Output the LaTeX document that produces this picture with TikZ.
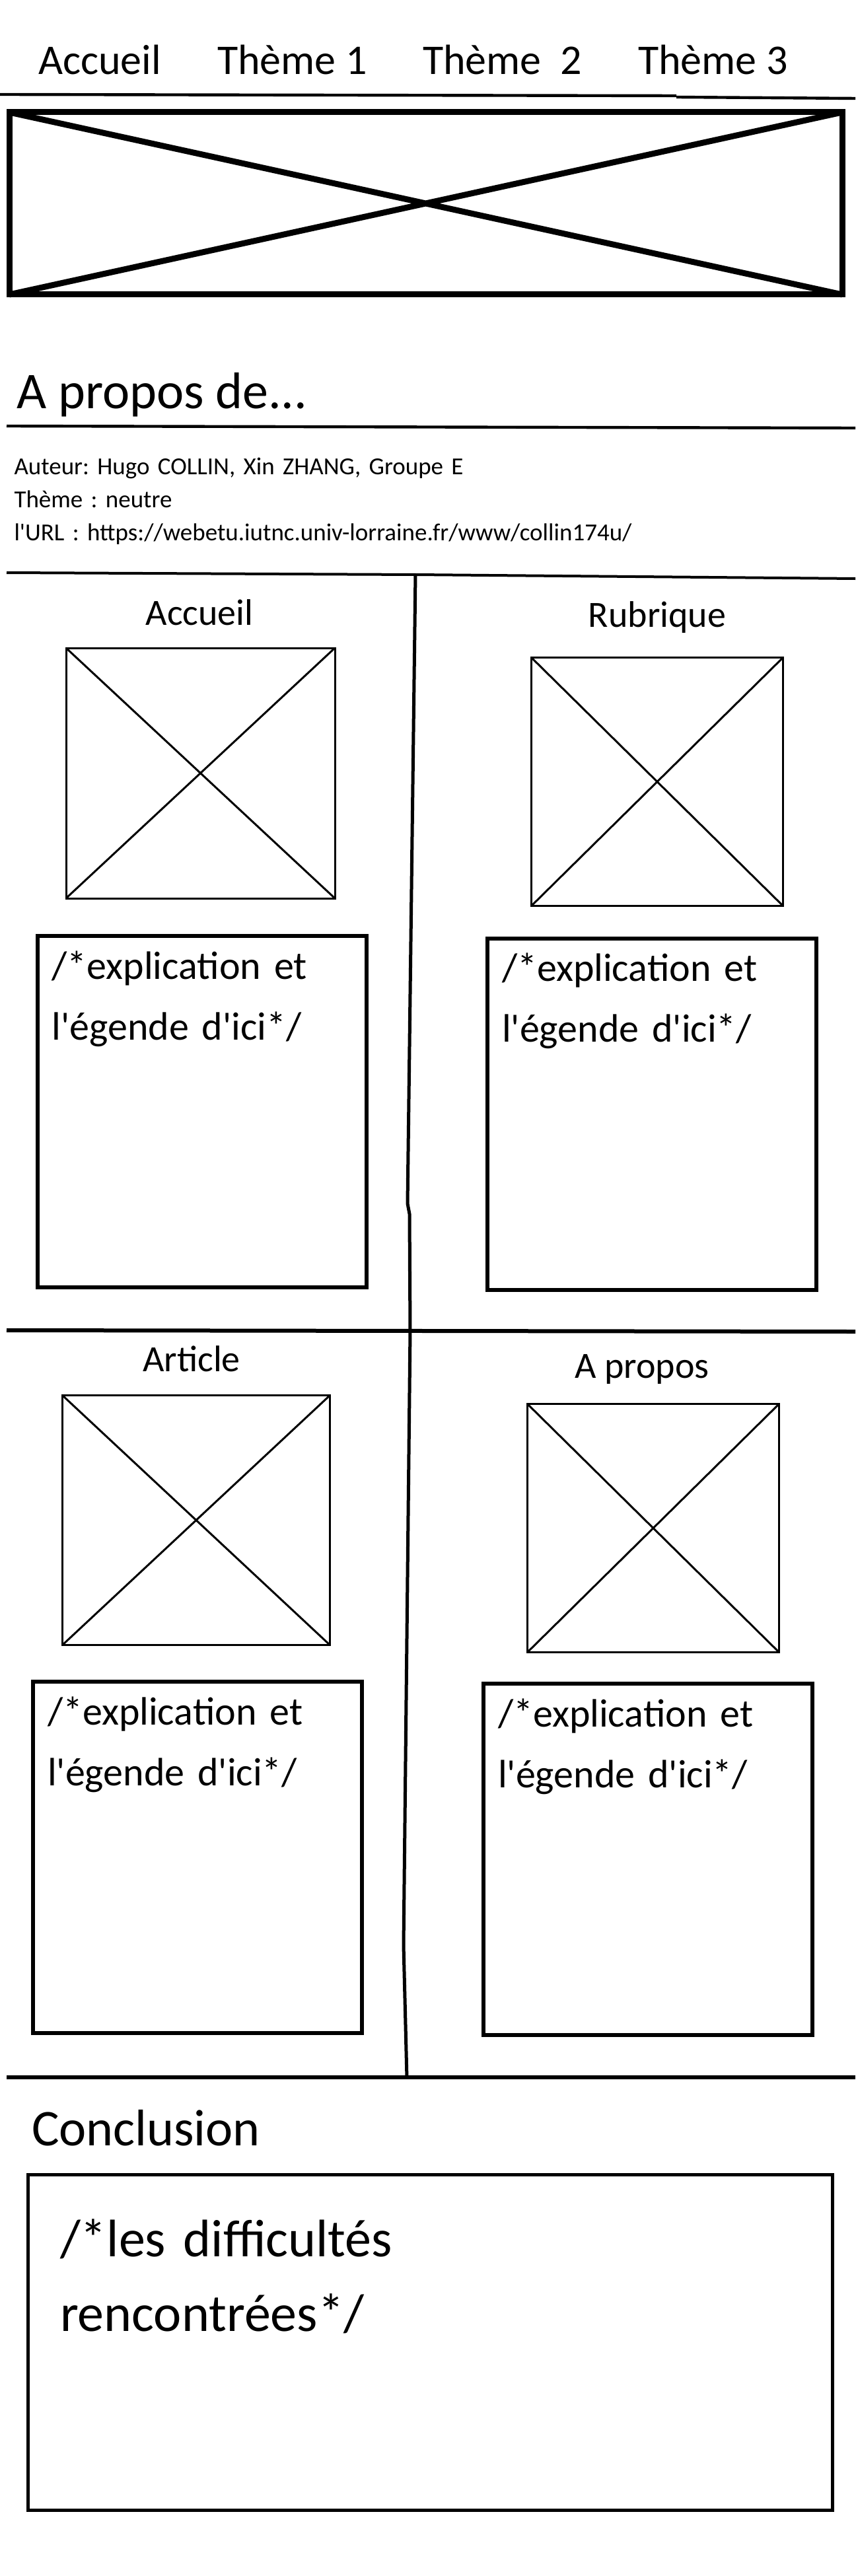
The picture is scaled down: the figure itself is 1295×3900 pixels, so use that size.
\documentclass[tikz,border=0pt]{standalone}
\usepackage{fontspec}
\setmainfont{Carlito}
\frenchspacing

\begin{document}
\begin{tikzpicture}[
        x=0.5pt, y=-0.5pt,
        every node/.style={inner sep=0pt, outer sep=0pt},
        menu/.style={anchor=base west, font=\fontsize{32pt}{38pt}\selectfont},
        title/.style={anchor=base, font=\fontsize{28pt}{34pt}\selectfont},
        caption/.style={anchor=base west, align=left, text width=240pt, font=\fontsize{30pt}{46pt}\selectfont},
        imgbox/.style={draw, line width=1.5pt},
        capbox/.style={draw, line width=3pt, minimum width=249pt, minimum height=266pt},
        rule/.style={line width=2.2pt},
        sep/.style={line width=3pt}
    ]
        \useasboundingbox (0,0) rectangle (1295,3900);

        % Menu
        \node[menu] (mAccueil) at (58,113) {Accueil};
        \node[menu] (mTheme1) at (329,113) {Thème 1};
        \node[menu] (mTheme2) at (640,113) {Thème\ \ 2};
        \node[menu] (mTheme3) at (966,113) {Thème 3};
        \draw[rule] (0,143) -- (1024,145);
        \draw[rule] (1024,147) -- (1295,149);

        % Banniere
        \node[draw, line width=4.5pt, minimum width=630.5pt, minimum height=138pt] (banner) at (644.5,308) {};
        \draw[line width=4.5pt] (banner.north west) -- (banner.south east)
            (banner.south west) -- (banner.north east);

        % A propos de...
        \node[anchor=base west, font=\fontsize{39pt}{47pt}\selectfont] (about) at (25.5,618) {A propos de...};
        \draw[rule] (10,645) -- (1295,648);
        \node[anchor=base west, align=left, text width=600pt, font=\fontsize{18.5pt}{25pt}\selectfont] (info) at (21.5,718)
            {Auteur: Hugo COLLIN, Xin ZHANG, Groupe E\\Thème : neutre\\l\textquotesingle URL : https://webetu.iutnc.univ-lorraine.fr/www/collin174u/};
        \draw[line width=2pt] (10,867) -- (630,870) -- (1295,876);

        % Grille des pages
        \draw[line width=2.5pt] (629,869) -- (617,1822) -- (620,1838) -- (621,2015) -- (611,2945) -- (616,3146);
        \draw[sep] (10,2014) -- (1295,2016);
        \draw[sep] (10,3145) -- (1295,3145);

        % Titres
        \node[title] (tAccueil) at (302,946) {Accueil};
        \node[title] (tRubrique) at (995,949) {Rubrique};
        \node[title] (tArticle) at (290,2076) {Article};
        \node[title] (tPropos) at (972,2086) {A propos};

        % Images
        \node[imgbox, minimum width=203.5pt, minimum height=189.5pt] (imgAccueil) at (303.5,1170.5) {};
        \node[imgbox, minimum width=190.5pt, minimum height=188pt] (imgRubrique) at (995,1183.5) {};
        \node[imgbox, minimum width=202.5pt, minimum height=189pt] (imgArticle) at (297,2301.5) {};
        \node[imgbox, minimum width=190.5pt, minimum height=188pt] (imgPropos) at (989,2313.5) {};
        \foreach \b in {imgAccueil,imgRubrique,imgArticle,imgPropos}
            \draw[imgbox] (\b.north west) -- (\b.south east)
                (\b.south west) -- (\b.north east);

        % Legendes
        \node[capbox] (capAccueil) at (305.5,1683) {};
        \node[capbox] (capRubrique) at (987,1686.5) {};
        \node[capbox] (capArticle) at (299,2812) {};
        \node[capbox] (capPropos) at (981,2815) {};
        \foreach \b in {capAccueil,capRubrique,capArticle,capPropos}
            \node[caption] (txt\b) at ([shift={(22,65)}]\b.north west)
                {/*explication et\\l\textquotesingle égende d\textquotesingle ici*/};

        % Conclusion
        \node[anchor=base west, font=\fontsize{39pt}{47pt}\selectfont] (conclTitle) at (48,3248) {Conclusion};
        \node[draw, line width=2.5pt, minimum width=609pt, minimum height=254pt] (conclBox) at (651.5,3546.5) {};
        \node[anchor=base west, align=left, text width=560pt, font=\fontsize{40pt}{56.5pt}\selectfont] (conclTxt)
            at ([shift={(48.5,123.5)}]conclBox.north west) {/*les difficultés\\rencontrées*/};

    \end{tikzpicture}
\end{document}
